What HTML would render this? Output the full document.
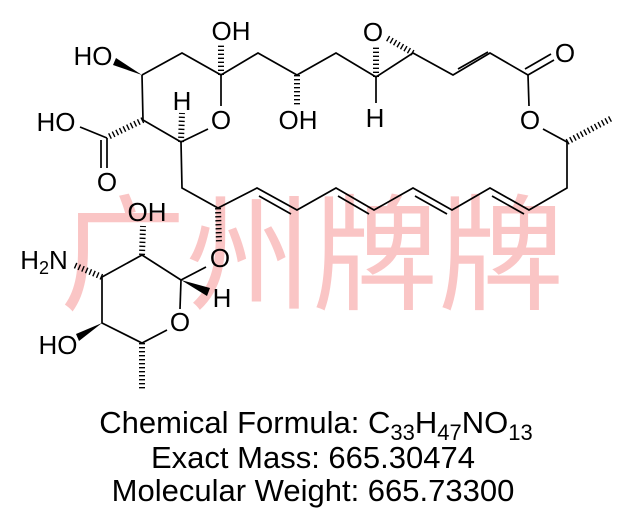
<!DOCTYPE html>
<html><head><meta charset="utf-8"><style>
html,body{margin:0;padding:0;background:#fff;}
svg{display:block}
.l{stroke:#000;stroke-width:1.7;fill:none;stroke-linecap:butt}
.h{stroke:#000;stroke-width:6;stroke-dasharray:1.4,2.6;fill:none}
text{font-family:"Liberation Sans",Arial,sans-serif;fill:#000}
.a{font-size:26px}
.b{font-size:31px}
</style></head><body>
<svg width="625" height="532" viewBox="0 0 625 532">
<text x="60" y="300" font-size="126" style="font-family:'Noto Sans CJK SC',sans-serif;fill:#f46a6a;opacity:0.38">广州牌牌</text>
<g class="l">
<polyline points="142,75 182,53 221,75 258,53 297,75 336,53 376,77 413,53 453,75 490,53 528,75"/>
<line x1="458" y1="69" x2="488" y2="52"/>
<line x1="528" y1="75" x2="554" y2="60"/>
<line x1="525" y1="69" x2="551" y2="54"/>
<line x1="528" y1="75" x2="529" y2="106"/>
<line x1="543" y1="129" x2="567" y2="142"/>
<polyline points="567,142 567,188 529,210 490,188 452,210 413,188 374,210 336,188 297,210 257,188 218,208 182,188 181,142"/>
<line x1="492" y1="196" x2="524" y2="214"/>
<line x1="415" y1="196" x2="447" y2="214"/>
<line x1="338" y1="196" x2="369" y2="214"/>
<line x1="259" y1="196" x2="291" y2="214"/>
<line x1="221" y1="75" x2="221" y2="106"/>
<line x1="208" y1="129" x2="181" y2="142"/>
<polyline points="181,142 143,120 142,75"/>
<line x1="107" y1="138" x2="80" y2="127"/>
<line x1="107" y1="138" x2="107" y2="168"/>
<line x1="101" y1="140" x2="101" y2="168"/>
<line x1="376" y1="77" x2="376" y2="103"/>
<line x1="206" y1="267" x2="181" y2="280"/>
<polyline points="181,280 142,255 102,277 102,323 142,343 167,330"/>
<line x1="180" y1="309" x2="181" y2="280"/>
</g>
<g class="h">
<line x1="221" y1="75" x2="221" y2="44"/>
<line x1="297" y1="75" x2="297" y2="106"/>
<line x1="181" y1="142" x2="182" y2="113"/>
<line x1="143" y1="120" x2="108" y2="137"/>
<line x1="376" y1="77" x2="376" y2="46"/>
<line x1="413" y1="53" x2="387" y2="38"/>
<line x1="567" y1="142" x2="612" y2="118"/>
<line x1="218" y1="208" x2="219" y2="244"/>
<line x1="142" y1="255" x2="143" y2="226"/>
<line x1="102" y1="277" x2="74" y2="265"/>
<line x1="142" y1="343" x2="142" y2="389"/>
</g>
<g fill="#000">
<polygon points="142,75 116,58 113,65"/>
<polygon points="181,280 210,288 207,296"/>
<polygon points="102,323 76,334 79,341"/>
</g>
<g class="a" text-anchor="middle">
<text x="93" y="65">HO</text>
<text x="231" y="40">OH</text>
<text x="298" y="129">OH</text>
<text x="182" y="110">H</text>
<text x="221" y="129">O</text>
<text x="56" y="131">HO</text>
<text x="107" y="191">O</text>
<text x="373" y="41">O</text>
<text x="375" y="127">H</text>
<text x="565" y="62">O</text>
<text x="530" y="129">O</text>
<text x="147" y="221">OH</text>
<text x="220" y="267">O</text>
<text x="222" y="307">H</text>
<text x="180" y="331">O</text>
<text x="58" y="354">HO</text>
<text x="44" y="269">H<tspan font-size="18" dy="5">2</tspan><tspan dy="-5">N</tspan></text>
</g>
<g class="b" text-anchor="middle">
<text x="316" y="433">Chemical Formula: C<tspan font-size="22" dy="7">33</tspan><tspan dy="-7">H</tspan><tspan font-size="22" dy="7">47</tspan><tspan dy="-7">NO</tspan><tspan font-size="22" dy="7">13</tspan></text>
<text x="313" y="468">Exact Mass: 665.30474</text>
<text x="313" y="501">Molecular Weight: 665.73300</text>
</g>
</svg>
</body></html>
